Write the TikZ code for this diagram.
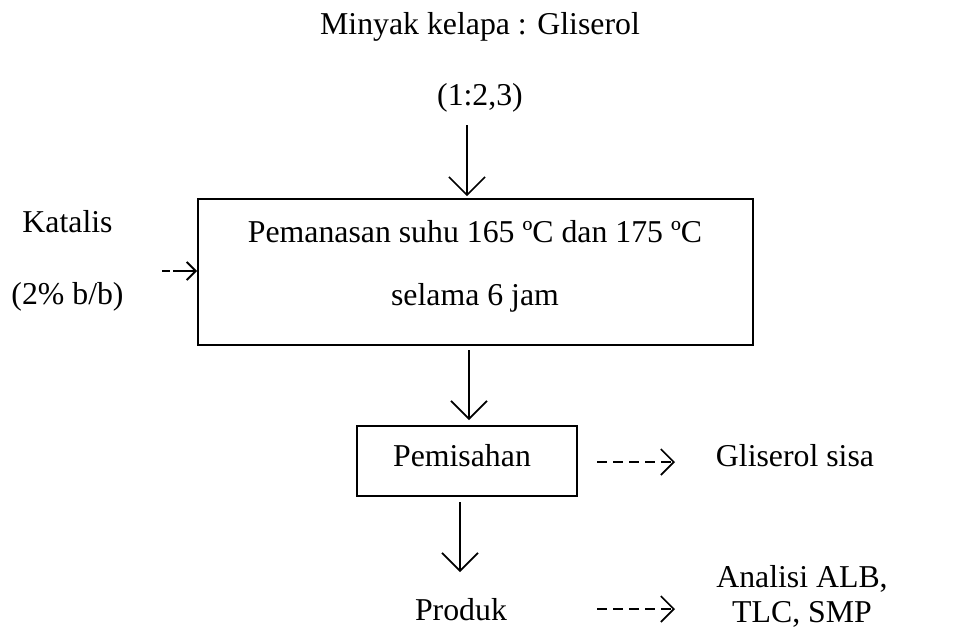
\documentclass[tikz,border=0pt]{standalone}
\usepackage{fontspec}
\setmainfont{Liberation Serif}
\usetikzlibrary{arrows.meta}
\begin{document}
\begin{tikzpicture}[x=0.5pt,y=-0.5pt,
  txt/.style={inner sep=0pt,font=\fontsize{15.9}{17.5}\selectfont},
  box/.style={draw,line width=0.9pt,inner sep=0pt},
  flow/.style={line width=0.8pt,-{Straight Barb[length=9pt,width=18pt,line width=0.8pt]}},
  side/.style={line width=0.8pt,dash pattern=on 5pt off 3pt,-{Straight Barb[length=6.5pt,width=13pt,line width=0.8pt]}},
  cat/.style={line width=1pt,dash pattern=on 4pt off 1.5pt on 20pt off 0pt,-{Straight Barb[length=4.5pt,width=9pt,line width=1pt]}}]
\useasboundingbox (0,0) rectangle (955,632);
\node[txt] (title) at (480,27) {Minyak kelapa : Gliserol};
\node[txt] (ratio) at (480,98) {(1:2,3)};
\node[box,minimum width=277.5pt,minimum height=73pt] (heat) at (475.5,272) {};
\node[txt] (l1) at (475,232) {Pemanasan suhu 165 ºC dan 175 ºC};
\node[txt] (l2) at (475,298) {selama 6 jam};
\node[txt] (kat) at (67.5,222) {Katalis};
\node[txt] (katp) at (67.5,297) {(2\% b/b)};
\node[box,minimum width=110pt,minimum height=35pt] (pem) at (467,461) {};
\node[txt] (pemt) at (462,456) {Pemisahan};
\node[txt] (prod) at (461,610) {Produk};
\node[txt] (gsisa) at (795,456) {Gliserol sisa};
\node[txt,align=center] (anal) at (802,596) {Analisi ALB,\\TLC, SMP};
\coordinate (katS) at (162,271);
\coordinate (a1) at (467,125);
\coordinate (b1) at (469,350);
\coordinate (b2) at (469,420);
\coordinate (c1) at (460,502);
\coordinate (c2) at (460,572);
\coordinate (g1) at (597,462);
\coordinate (g2) at (675,462);
\coordinate (p1) at (597,609);
\coordinate (p2) at (675,609);
\draw[flow] (a1) -- ([yshift=1pt]a1 |- heat.north);
\draw[flow] (b1) -- (b2);
\draw[flow] (c1) -- (c2);
\draw[cat] (katS) -- (heat.west |- katS);
\draw[side] (g1) -- (g2);
\draw[side] (p1) -- (p2);
\end{tikzpicture}
\end{document}
